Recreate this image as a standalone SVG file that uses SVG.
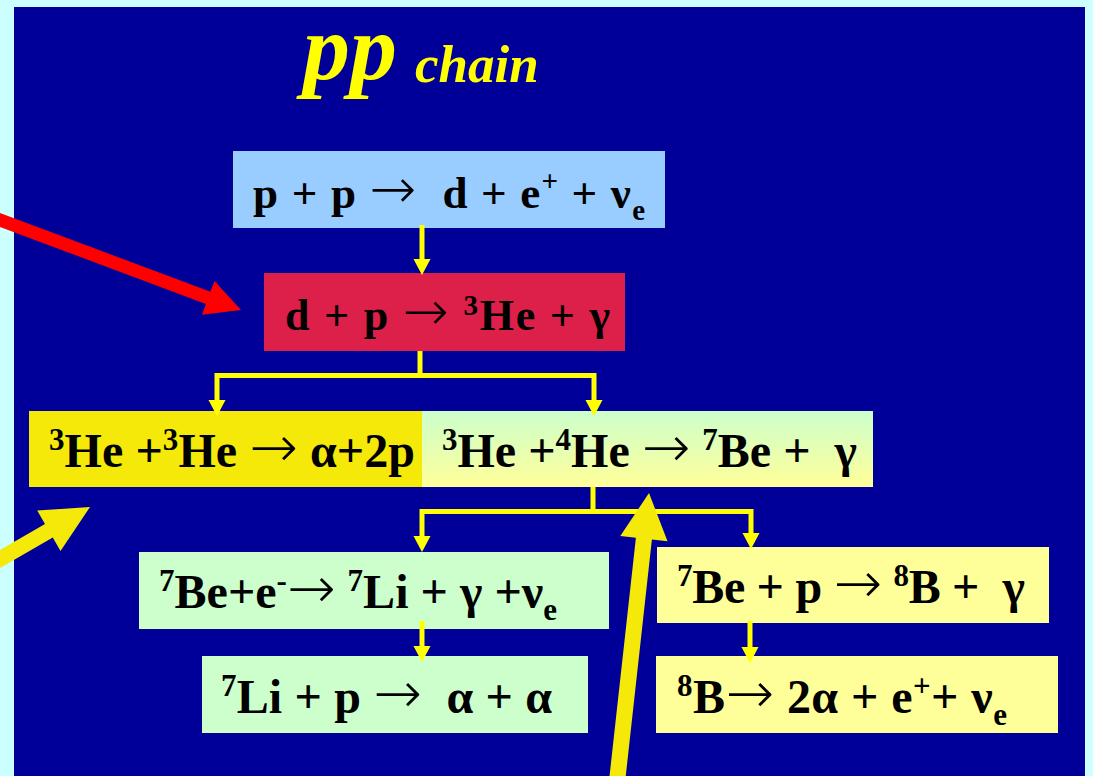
<svg xmlns="http://www.w3.org/2000/svg" width="1093" height="776" viewBox="0 0 1093 776">
<style>
.eq{font-family:"Liberation Serif","Times New Roman",serif;font-weight:bold;fill:#000;white-space:pre}
.ar{font-family:"DejaVu Sans",sans-serif;font-weight:200}
.title{font-family:"Liberation Serif","Times New Roman",serif;font-weight:bold;font-style:italic;fill:#ffff00}
.conn{fill:none;stroke:#ffff00;stroke-width:5}
</style>
<defs>
<marker id="ah" markerUnits="userSpaceOnUse" markerWidth="16" markerHeight="18" viewBox="0 -8 15 16" refX="0" refY="0" orient="auto">
<path d="M0,-8 L15,0 L0,8 z" fill="#ffff00"/>
</marker>
<linearGradient id="gy" x1="0" y1="0" x2="0" y2="1">
<stop offset="0" stop-color="#ccffcc"/>
<stop offset="1" stop-color="#ffff99"/>
</linearGradient>
</defs>
<rect x="0" y="0" width="1093" height="776" fill="#ccffff"/>
<rect x="14" y="7" width="1071" height="780" fill="#000099"/>
<g id="title">
<text class="title" x="303" y="79" font-size="94">pp</text>
<text class="title" x="415" y="82" font-size="53">chain</text>
</g>
<g id="n1">
<rect x="233" y="151" width="432" height="77" fill="#99ccff"/>
<text class="eq" x="253" y="208" font-size="45" textLength="392">p + p <tspan class="ar" font-size="56">→</tspan>  d + e<tspan font-size="29" dy="-17">+</tspan><tspan dy="17"> + ν</tspan><tspan font-size="29" dy="12">e</tspan></text>
</g>
<g id="n2">
<rect x="264" y="273" width="361" height="78" fill="#dd2049"/>
<text class="eq" x="285" y="330" font-size="44" textLength="325">d + p <tspan class="ar" font-size="55">→</tspan> <tspan font-size="29" dy="-15">3</tspan><tspan dy="15">He + γ</tspan></text>
</g>
<g id="n3b">
<rect x="418" y="411" width="455" height="76" fill="url(#gy)"/>
<text class="eq" x="442" y="467" font-size="48" textLength="415"><tspan font-size="31" dy="-17">3</tspan><tspan dy="17">He +</tspan><tspan font-size="31" dy="-17">4</tspan><tspan dy="17">He </tspan><tspan class="ar" font-size="58">→</tspan> <tspan font-size="31" dy="-17">7</tspan><tspan dy="17">Be +  γ</tspan></text>
</g>
<g id="n3a">
<rect x="29" y="411" width="393" height="76" fill="#f5e90a"/>
<text class="eq" x="49" y="467" font-size="48" textLength="366"><tspan font-size="31" dy="-17">3</tspan><tspan dy="17">He +</tspan><tspan font-size="31" dy="-17">3</tspan><tspan dy="17">He </tspan><tspan class="ar" font-size="58">→</tspan> α+2p</text>
</g>
<g id="n4a">
<rect x="139" y="552" width="470" height="77" fill="#ccffcc"/>
<text class="eq" x="159" y="608" font-size="48" textLength="398"><tspan font-size="31" dy="-17">7</tspan><tspan dy="17">Be+e</tspan><tspan font-size="31" dy="-17">-</tspan><tspan class="ar" font-size="58" dy="17">→</tspan> <tspan font-size="31" dy="-17">7</tspan><tspan dy="17">Li + γ +ν</tspan><tspan font-size="31" dy="12">e</tspan></text>
</g>
<g id="n4b">
<rect x="657" y="547" width="392" height="76" fill="#ffff99"/>
<text class="eq" x="677" y="603" font-size="48" textLength="348"><tspan font-size="31" dy="-17">7</tspan><tspan dy="17">Be + p </tspan><tspan class="ar" font-size="58">→</tspan> <tspan font-size="31" dy="-17">8</tspan><tspan dy="17">B +  γ</tspan></text>
</g>
<g id="n5a">
<rect x="202" y="656" width="386" height="77" fill="#ccffcc"/>
<text class="eq" x="221" y="713" font-size="48" textLength="331"><tspan font-size="31" dy="-17">7</tspan><tspan dy="17">Li + p </tspan><tspan class="ar" font-size="58">→</tspan>  α + α</text>
</g>
<g id="n5b">
<rect x="656" y="656" width="402" height="77" fill="#ffff99"/>
<text class="eq" x="677" y="713" font-size="48" textLength="330"><tspan font-size="31" dy="-17">8</tspan><tspan dy="17">B</tspan><tspan class="ar" font-size="58">→</tspan> 2α + e<tspan font-size="31" dy="-17">+</tspan><tspan dy="17">+ ν</tspan><tspan font-size="31" dy="12">e</tspan></text>
</g>
<g id="connectors">
<path class="conn" d="M422,225 V259" marker-end="url(#ah)"/>
<path class="conn" d="M420,351 V375.5 M217,375.5 H594"/>
<path class="conn" d="M217,373 V400" marker-end="url(#ah)"/>
<path class="conn" d="M594,373 V400" marker-end="url(#ah)"/>
<path class="conn" d="M593,487 V511.5 M422,511.5 H751"/>
<path class="conn" d="M422,509 V536" marker-end="url(#ah)"/>
<path class="conn" d="M751,509 V533" marker-end="url(#ah)"/>
<path class="conn" d="M422,621 V646" marker-end="url(#ah)"/>
<path class="conn" d="M750,621 V647" marker-end="url(#ah)"/>
<polygon fill="#ff0000" points="-17.7,206.4 210.5,291.7 214.5,280.9 241,310 201.9,314.7 205.9,303.9 -22.3,218.6"/>
<polygon fill="#f5e90a" points="-21.2,562.2 45,524 37.2,510.6 90,507 60.5,550.9 52.8,537.5 -13.4,575.8"/>
<polygon fill="#f5e90a" points="608.1,789 635.9,537.8 620.3,536.1 649,493 667.5,541.3 651.9,539.6 624.1,791"/>
</g>
</svg>
